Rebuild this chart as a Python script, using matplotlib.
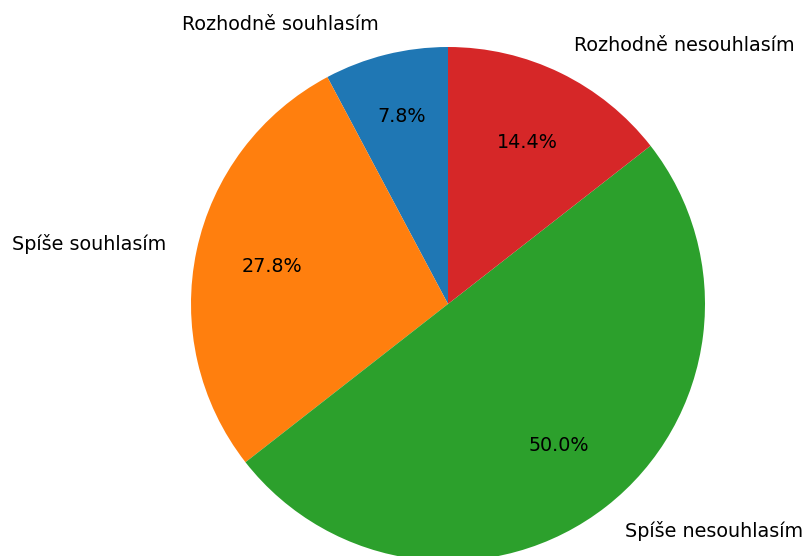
import matplotlib
matplotlib.use("Agg")
import matplotlib.pyplot as plt

# answers to one survey question (counts, 90 respondents)
labels = ["Rozhodně souhlasím", "Spíše souhlasím", "Spíše nesouhlasím", "Rozhodně nesouhlasím"]
counts = [7, 25, 45, 13]
colors = ["#1f77b4", "#ff7f0e", "#2ca02c", "#d62728"]

fig = plt.figure(figsize=(8.06, 5.56), dpi=100)
# pie centre ~ (448, 304) px, radius ~257 px
r_px = 257
ax = fig.add_axes([(448 - r_px) / 806, (556 - 304 - r_px) / 556, 2 * r_px / 806, 2 * r_px / 556])

wedges, texts, autotexts = ax.pie(counts, labels=labels, colors=colors, autopct="%1.1f%%",
                                  startangle=90, labeldistance=1.12, pctdistance=0.7,
                                  textprops={"fontsize": 13.8, "family": "DejaVu Sans"})
# the small slice's percentage sits a bit further out
x, y = autotexts[0].get_position()
autotexts[0].set_position((x * 0.75 / 0.7, y * 0.75 / 0.7))

ax.set_xlim(-1, 1)
ax.set_ylim(-1, 1)
ax.set_aspect("equal")

fig.savefig("out.png", dpi=100)
